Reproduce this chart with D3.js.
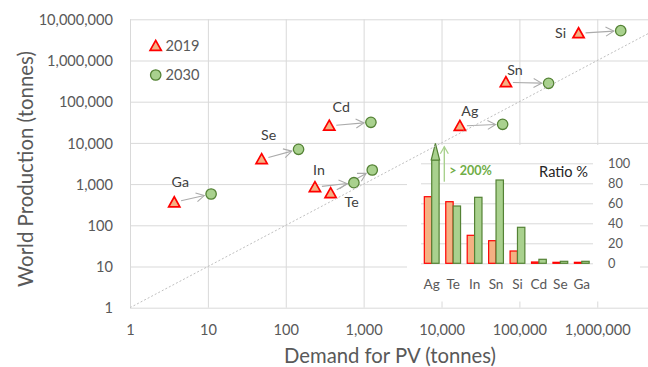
<!DOCTYPE html>
<html>
<head>
<meta charset="utf-8">
<script src="https://cdn.jsdelivr.net/npm/d3@7"></script>
<style>
  html, body { margin: 0; padding: 0; background: #fff; }
  svg { display: block; font-family: Lato, "Open Sans", sans-serif; }
</style>
</head>
<body>
<svg id="chart" width="648" height="367"></svg>
<script>
// Critical PV materials: world production vs. PV demand (tonnes), 2019 and 2030
const elements       = ["Ga", "Se", "Cd", "In", "Te", "Ag", "Sn", "Si"];
const demand2019     = [3.7, 49, 362, 237, 377, 17200, 67100, 575000];
const production2019 = [360, 4000, 26000, 840, 600, 25700, 296000, 4570000];
const demand2030     = [11, 146, 1240, 750, 1290, 60900, 237000, 2000000];
const production2030 = [575, 7000, 31600, 1080, 2200, 28300, 280000, 5300000];

// Inset: PV demand as a share of world production (%)
const ratioMetals = ["Ag", "Te", "In", "Sn", "Si", "Cd", "Se", "Ga"];
const ratio2019   = [66.6, 61.6, 28, 22.6, 12.3, 1.3, 1, 1];
const ratio2030   = [215, 57.3, 66, 83.3, 36, 4, 2, 2];

const productionTicks = [1, 10, 100, 1000, 1e4, 1e5, 1e6, 1e7];
const demandTicks     = [1, 10, 100, 1000, 1e4, 1e5, 1e6];
const ratioTicks      = [0, 20, 40, 60, 80, 100];
const seriesNames     = ["2019", "2030"];

// where each element name sits, relative to its 2019 marker
const labelNudge = {
  Ga: [6, -20], Se: [7, -24], Cd: [12, -19], In: [4, -17],
  Te: [21, 9], Ag: [10, -15], Sn: [9, -12], Si: [-18, 0]
};

const W = 648, H = 367;
const plot = { left: 130, right: W, top: 19.3, bottom: 307.7 };
const decadeX = 77.88;

const svg = d3.select("#chart");
const fmt = d3.format(",");
const GRID = "#d9d9d9", TXT = "#595959";
const ORANGE = "#f4b183", RED = "#ff0000", GREEN = "#a9d18e", DKGREEN = "#548235";

const x = d3.scaleLog().domain([1, 1e7]).range([plot.left, plot.left + 7 * decadeX]);
const y = d3.scaleLog().domain([1, 1e7]).range([plot.bottom, plot.top]);

svg.append("rect").attr("width", W).attr("height", H).attr("fill", "#fff");

svg.append("defs").append("clipPath").attr("id", "plotClip")
  .append("rect").attr("x", plot.left).attr("y", plot.top)
  .attr("width", plot.right - plot.left).attr("height", plot.bottom - plot.top);

svg.select("defs").append("marker")
  .attr("id", "openHead").attr("markerUnits", "userSpaceOnUse")
  .attr("viewBox", "-10 -6 12 12").attr("refX", 0).attr("refY", 0)
  .attr("markerWidth", 12).attr("markerHeight", 12).attr("orient", "auto")
  .append("path").attr("d", "M-8,-4.5L0,0L-8,4.5")
  .attr("fill", "none").attr("stroke", "#ababab").attr("stroke-width", 1.1);

svg.select("defs").append("marker")
  .attr("id", "greenHead").attr("markerUnits", "userSpaceOnUse")
  .attr("viewBox", "-10 -6 12 12").attr("refX", 0).attr("refY", 0)
  .attr("markerWidth", 12).attr("markerHeight", 12).attr("orient", "auto")
  .append("path").attr("d", "M-7,-4L0,0L-7,4")
  .attr("fill", "none").attr("stroke", GREEN).attr("stroke-width", 1.3);

function styleAxis(g, size) {
  g.select(".domain").remove();
  g.selectAll(".tick line").attr("stroke", GRID).attr("stroke-width", 1);
  g.selectAll(".tick text").attr("fill", TXT)
    .attr("font-family", "Lato, 'Open Sans', sans-serif").attr("font-size", size);
}

// horizontal gridlines + production labels
const gy = svg.append("g").attr("transform", `translate(${plot.left},0)`)
  .call(d3.axisLeft(y).tickValues(productionTicks).tickFormat(fmt)
    .tickSize(-(plot.right - plot.left)).tickPadding(17));
styleAxis(gy, 14.6);
gy.selectAll(".tick text").attr("dy", "0.35em");

// vertical gridlines + demand labels
const gx = svg.append("g").attr("transform", `translate(0,${plot.bottom})`)
  .call(d3.axisBottom(x).tickValues(demandTicks).tickFormat(fmt)
    .tickSize(-(plot.bottom - plot.top)).tickPadding(0));
styleAxis(gx, 14.6);
gx.selectAll(".tick text").attr("y", 22.5).attr("dy", "0.35em");

// axis titles, sized to their span
function fitTo(sel, width) {
  const len = sel.node().getComputedTextLength();
  sel.attr("font-size", parseFloat(sel.attr("font-size")) * width / len);
}
const yTitle = svg.append("text")
  .attr("transform", "translate(25.5,169) rotate(-90)")
  .attr("text-anchor", "middle").attr("dy", "0.35em")
  .attr("fill", TXT).attr("font-size", 20)
  .text("World Production (tonnes)");
fitTo(yTitle, 236);
const xTitle = svg.append("text")
  .attr("x", 390).attr("y", 356).attr("text-anchor", "middle").attr("dy", "0.35em")
  .attr("fill", TXT).attr("font-size", 20)
  .text("Demand for PV (tonnes)");
fitTo(xTitle, 212);

const triPath = "M0,-5.6L5.6,4.4L-5.6,4.4Z";

const rows = elements.map((name, i) => ({
  name,
  x0: x(demand2019[i]), y0: y(production2019[i]),
  x1: x(demand2030[i]), y1: y(production2030[i])
}));

// arrows from 2019 to 2030
svg.append("g").selectAll("line").data(rows).join("line")
  .each(function (d) {
    const dx = d.x1 - d.x0, dy = d.y1 - d.y0, L = Math.hypot(dx, dy);
    const ux = dx / L, uy = dy / L;
    d3.select(this)
      .attr("x1", d.x0 + ux * 7).attr("y1", d.y0 + uy * 7)
      .attr("x2", d.x1 - ux * 7).attr("y2", d.y1 - uy * 7);
  })
  .attr("stroke", "#ababab").attr("stroke-width", 1.1)
  .attr("marker-end", "url(#openHead)");

// 2019 markers
svg.append("g").selectAll("path").data(rows).join("path")
  .attr("transform", d => `translate(${d.x0},${d.y0})`)
  .attr("d", triPath).attr("fill", ORANGE).attr("stroke", RED).attr("stroke-width", 1.7)
  .attr("stroke-linejoin", "miter");

// 2030 markers
svg.append("g").selectAll("circle").data(rows).join("circle")
  .attr("cx", d => d.x1).attr("cy", d => d.y1).attr("r", 5.2)
  .attr("fill", GREEN).attr("stroke", DKGREEN).attr("stroke-width", 1.3);

// element names
svg.append("g").selectAll("text").data(rows).join("text")
  .attr("x", d => d.x0 + labelNudge[d.name][0])
  .attr("y", d => d.y0 + labelNudge[d.name][1])
  .attr("text-anchor", "middle").attr("dy", "0.35em")
  .attr("fill", "#404040").attr("font-size", 14.2)
  .text(d => d.name);

// legend
const legend = svg.append("g");
legend.append("path").attr("transform", "translate(155.7,46)").attr("d", triPath)
  .attr("fill", ORANGE).attr("stroke", RED).attr("stroke-width", 1.7);
legend.append("circle").attr("cx", 155.7).attr("cy", 75).attr("r", 5.2)
  .attr("fill", GREEN).attr("stroke", DKGREEN).attr("stroke-width", 1.3);
legend.selectAll("text").data(seriesNames).join("text")
  .attr("x", 165.5).attr("y", (d, i) => 46 + i * 29).attr("dy", "0.35em")
  .attr("fill", TXT).attr("font-size", 14.6).text(d => d);

// ---------- inset: demand / production ratio ----------
const inset = svg.append("g");
inset.append("rect").attr("x", 407).attr("y", 145).attr("width", 233).attr("height", 156.5)
  .attr("fill", "#fff");

const xb = d3.scaleBand().domain(ratioMetals).range([421, 592.5]).padding(0);
const groupW = xb.bandwidth() * 0.69;
const xs = d3.scaleBand().domain(seriesNames).range([0, groupW]);
const yr = d3.scaleLinear().domain([0, 100]).range([263.3, 163.3]);
const ratioCap = 103.3;

const ga = inset.append("g").attr("transform", "translate(593,0)")
  .call(d3.axisRight(yr).tickValues(ratioTicks).tickSize(-(593 - 421)).tickPadding(15));
styleAxis(ga, 12.8);

const gb = inset.append("g").attr("transform", `translate(0,${yr(0)})`)
  .call(d3.axisBottom(xb).tickSize(0));
styleAxis(gb, 13.6);
gb.selectAll(".tick text").attr("y", 21).attr("dy", "0.35em");

const barData = ratioMetals.flatMap((m, i) => [
  { m, s: "2019", v: ratio2019[i] },
  { m, s: "2030", v: ratio2030[i] }
]);
const bx = d => xb(d.m) + (xb.bandwidth() - groupW) / 2 + xs(d.s);

inset.append("g").selectAll("rect").data(barData).join("rect")
  .attr("x", bx)
  .attr("y", d => yr(Math.min(d.v, ratioCap)))
  .attr("width", xs.bandwidth())
  .attr("height", d => yr(0) - yr(Math.min(d.v, ratioCap)))
  .attr("fill", d => d.s === "2019" ? ORANGE : GREEN)
  .attr("stroke", d => d.s === "2019" ? RED : DKGREEN)
  .attr("stroke-width", 1.2);

// bars beyond the axis get a pointed cap
const over = barData.filter(d => d.v > ratioCap);
inset.append("g").selectAll("path").data(over).join("path")
  .attr("d", d => {
    const l = bx(d) - 0.5, r = bx(d) + xs.bandwidth() + 0.5, b = yr(ratioCap), t = yr(120);
    return `M${l},${b}L${(l + r) / 2},${t}L${r},${b}Z`;
  })
  .attr("fill", GREEN).attr("stroke", DKGREEN).attr("stroke-width", 1.2);

over.forEach(d => {
  const ax = xb(d.m) + xb.bandwidth() / 2 + 12.6;
  inset.append("line").attr("x1", ax).attr("x2", ax)
    .attr("y1", yr(81.6)).attr("y2", yr(116.6))
    .attr("stroke", GREEN).attr("stroke-width", 1.4)
    .attr("marker-end", "url(#greenHead)");
  inset.append("text").attr("x", ax + 5).attr("y", yr(92.3)).attr("dy", "0.35em")
    .attr("fill", "#70ad47").attr("font-weight", "bold").attr("font-size", 12.6)
    .text("> 200%");
});

inset.append("text").attr("x", 588).attr("y", 171.7).attr("dy", "0.35em")
  .attr("text-anchor", "end").attr("fill", "#262626").attr("font-size", 14.6)
  .text("Ratio %");

// parity line: demand equals production
svg.append("line")
  .attr("clip-path", "url(#plotClip)")
  .attr("x1", x(1)).attr("y1", y(1)).attr("x2", x(1e7)).attr("y2", y(1e7))
  .attr("stroke", "#bfbfbf").attr("stroke-width", 1).attr("stroke-dasharray", "2,2");
</script>
</body>
</html>
